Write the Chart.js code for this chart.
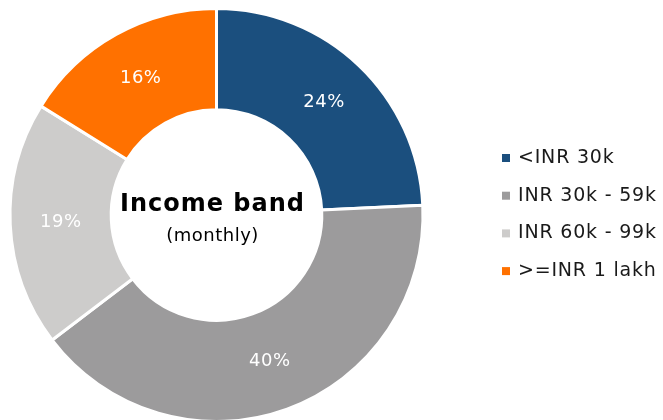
<!DOCTYPE html>
<html>
<head>
    <script src="https://cdn.jsdelivr.net/npm/chart.js@4/dist/chart.umd.min.js"></script>
    <style>
        html, body { margin: 0; padding: 0; background: #fff; overflow: hidden; }
        #wrap { position: relative; width: 663px; height: 430px; }
    </style>
    <title>Income band</title>
</head>
<body>
    <div id="wrap"><canvas id="myChart"></canvas></div>
    <script>
        var bands = ['<INR 30k', 'INR 30k - 59k', 'INR 60k - 99k', '>=INR 1 lakh'];
        var shares = [24, 40, 19, 16];
        var colors = ['#1B4F7E', '#9C9B9C', '#CDCCCB', '#FF7100'];

        var FONT = "'DejaVu Sans', 'Noto Sans', sans-serif";

        // percent labels inside each slice + centre title
        var sliceText = {
            id: 'sliceText',
            afterDatasetsDraw: function (chart) {
                var ctx = chart.ctx;
                var arcs = chart.getDatasetMeta(0).data;
                ctx.save();
                ctx.fillStyle = '#fff';
                ctx.font = '18px ' + FONT;
                ctx.letterSpacing = '0.5px';
                ctx.textAlign = 'center';
                ctx.textBaseline = 'middle';
                arcs.forEach(function (arc, i) {
                    var p = arc.tooltipPosition();
                    ctx.fillText(shares[i] + '%', p.x, p.y);
                });
                var cx = arcs[0].x - 4, cy = arcs[0].y;
                ctx.fillStyle = '#000';
                ctx.font = 'bold 24px ' + FONT;
                ctx.letterSpacing = '1px';
                ctx.fillText('Income band', cx, cy - 10);
                ctx.font = '18px ' + FONT;
                ctx.letterSpacing = '0.5px';
                ctx.fillText('(monthly)', cx, cy + 21);
                ctx.restore();
            }
        };

        // legend on the right
        var sideLegend = {
            id: 'sideLegend',
            afterDraw: function (chart) {
                var ctx = chart.ctx;
                ctx.save();
                ctx.font = '19px ' + FONT;
                ctx.letterSpacing = '0.8px';
                ctx.textBaseline = 'middle';
                ctx.textAlign = 'left';
                for (var i = 0; i < bands.length; i++) {
                    var y = 158 + i * 37.7;
                    ctx.fillStyle = colors[i];
                    ctx.fillRect(502, y - 4, 8, 8);
                    ctx.fillStyle = '#1a1a1a';
                    ctx.fillText(bands[i], 518, y);
                }
                ctx.restore();
            }
        };

        new Chart(document.getElementById('myChart'), {
            type: 'doughnut',
            data: {
                labels: bands,
                datasets: [{
                    data: shares,
                    backgroundColor: colors,
                    borderColor: '#fff',
                    borderWidth: 3,
                    hoverOffset: 0
                }]
            },
            options: {
                responsive: true,
                maintainAspectRatio: false,
                animation: false,
                cutout: '51%',
                layout: { padding: { left: 8, top: 7, bottom: 7, right: 238 } },
                plugins: {
                    legend: { display: false },
                    tooltip: { enabled: false }
                }
            },
            plugins: [sliceText, sideLegend]
        });
    </script>
</body>
</html>
